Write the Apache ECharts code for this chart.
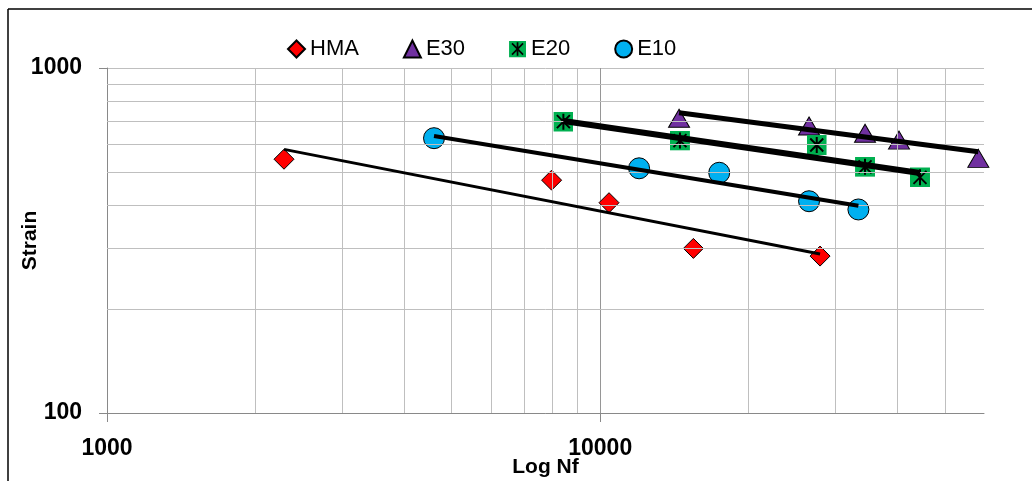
<!DOCTYPE html>
<html>
<head>
<meta charset="utf-8">
<script src="https://cdn.jsdelivr.net/npm/echarts@6/dist/echarts.min.js"></script>
<style>
html,body{margin:0;padding:0;background:#fff;}
#chartDiv{width:1032px;height:481px;}
</style>
</head>
<body>
<div id="chartDiv"></div>
<script>
// measured points (Nf, strain)
var hmaNf = [2285, 7970, 10420, 15450, 27910];
var hmaStrain = [544, 473, 407, 300, 285];
var e30Nf = [14450, 26510, 34430, 40350, 58430];
var e30Strain = [715, 679, 647, 618, 547];
var e20Nf = [8420, 14510, 27480, 34430, 44500];
var e20Strain = [699, 616, 598, 517, 482];
var e10Nf = [4603, 11990, 17430, 26510, 33380];
var e10Strain = [626, 512, 497, 411, 389];

// power trendlines, read at the ends of each series
var hmaTrend = [[2285, 581], [27910, 289]];
var e30Trend = [[14450, 742], [58430, 572]];
var e20Trend = [[8420, 702], [44500, 496]];
var e10Trend = [[4603, 635], [33380, 399]];

var seriesNames = ['HMA', 'E30', 'E20', 'E10'];
var xMinorGrid = [2000, 3000, 4000, 5000, 6000, 7000, 8000, 9000, 20000, 30000, 40000, 50000];
var yMinorGrid = [200, 300, 400, 500, 600, 700, 800, 900];
var xTickValues = [1000, 10000];
var yTickValues = [100, 1000];

var fontName = '"Liberation Sans", Arial, sans-serif';
var e20Svg = "<svg xmlns='http://www.w3.org/2000/svg' width='40' height='40' viewBox='0 0 40 40'>" +
	"<rect width='40' height='40' fill='#00b050'/>" +
	"<path d='M20 4V36M7 7L33 33M33 7L7 33' stroke='#000' stroke-width='4'/></svg>";
var e20Icon = 'image://data:image/svg+xml;charset=utf-8,' + encodeURIComponent(e20Svg);

function toPoints(xs, ys) {
	var pts = [];
	for (var i = 0; i < xs.length; i++) {
		pts.push([xs[i], ys[i]]);
	}
	return pts;
}

function trendSeries(data, width) {
	return {
		name: 'trend',
		type: 'line',
		data: data,
		showSymbol: false,
		symbol: 'none',
		silent: true,
		z: 5,
		lineStyle: {color: '#000', width: width},
		emphasis: {disabled: true}
	};
}

//only the decades get a label
function decadeLabel(v) {
	var r = Math.round(v);
	return (r == 100 || r == 1000 || r == 10000) ? String(r) : '';
}

function genChart() {
	var myChart = echarts.init(document.getElementById('chartDiv'));
	var gridLines = [];
	for (var i = 0; i < xMinorGrid.length; i++) {
		gridLines.push({xAxis: xMinorGrid[i]});
	}
	for (var j = 0; j < yMinorGrid.length; j++) {
		gridLines.push({yAxis: yMinorGrid[j]});
	}
	var option = {
		animation: false,
		backgroundColor: '#fff',
		grid: {left: 107, right: 48, top: 68, bottom: 68, containLabel: false, outerBoundsMode: 'none'},
		legend: {
			left: 282,
			top: 33,
			itemGap: 44,
			itemWidth: 17,
			itemHeight: 17,
			textStyle: {fontSize: 22, color: '#000', fontFamily: fontName},
			data: [
				{name: 'HMA', icon: 'diamond'},
				{name: 'E30', icon: 'triangle'},
				{name: 'E20', icon: e20Icon},
				{name: 'E10', icon: 'circle'}
			]
		},
		xAxis: {
			type: 'log',
			logBase: 10,
			min: 1000,
			max: 60000,
			name: 'Log Nf',
			nameLocation: 'middle',
			nameGap: 44,
			nameMoveOverlap: false,
			nameTextStyle: {fontSize: 21, fontWeight: 'bold', color: '#000', fontFamily: fontName},
			axisLine: {lineStyle: {color: '#898989', width: 1}},
			axisTick: {show: true, length: 9, customValues: xTickValues, lineStyle: {color: '#898989'}},
			axisLabel: {
				margin: 24,
				fontSize: 23,
				fontWeight: 'bold',
				color: '#000',
				fontFamily: fontName,
				customValues: xTickValues,
				formatter: decadeLabel
			},
			splitLine: {show: true, lineStyle: {color: ['#a6a6a6', '#969696', '#bfbfbf'], width: 1}}
		},
		yAxis: {
			type: 'log',
			logBase: 10,
			min: 100,
			max: 1000,
			name: 'Strain',
			nameLocation: 'middle',
			nameGap: 66,
			nameMoveOverlap: false,
			nameTextStyle: {fontSize: 21, fontWeight: 'bold', color: '#000', fontFamily: fontName},
			axisLine: {show: true, lineStyle: {color: '#898989', width: 1}},
			axisTick: {show: true, length: 8, customValues: yTickValues, lineStyle: {color: '#898989'}},
			axisLabel: {
				margin: 25,
				fontSize: 23,
				fontWeight: 'bold',
				color: '#000',
				fontFamily: fontName,
				customValues: yTickValues,
				formatter: decadeLabel
			},
			splitLine: {show: true, lineStyle: {color: '#bfbfbf', width: 1}}
		},
		graphic: [
			{type: 'line', shape: {x1: 8, y1: 9, x2: 1032, y2: 9}, style: {stroke: '#000', lineWidth: 1.5}, silent: true},
			{type: 'line', shape: {x1: 8, y1: 9, x2: 8, y2: 481}, style: {stroke: '#000', lineWidth: 1.5}, silent: true}
		],
		series: [
			{
				name: 'grid',
				type: 'scatter',
				data: [],
				z: 1,
				silent: true,
				markLine: {
					silent: true,
					symbol: ['none', 'none'],
					label: {show: false},
					lineStyle: {type: 'solid', color: '#bfbfbf', width: 1},
					emphasis: {disabled: true},
					data: gridLines
				}
			},
			{
				name: 'HMA',
				type: 'scatter',
				symbol: 'diamond',
				symbolSize: 20,
				z: 3,
				itemStyle: {color: '#ff0000', borderColor: '#000', borderWidth: 1, opacity: 1},
				data: toPoints(hmaNf, hmaStrain)
			},
			{
				name: 'E30',
				type: 'scatter',
				symbol: 'triangle',
				symbolSize: [21, 18],
				z: 3,
				itemStyle: {color: '#7030a0', borderColor: '#000', borderWidth: 1, opacity: 1},
				data: toPoints(e30Nf, e30Strain)
			},
			{
				name: 'E20',
				type: 'scatter',
				symbol: e20Icon,
				symbolSize: 20,
				z: 3,
				itemStyle: {color: '#00b050', opacity: 1},
				data: toPoints(e20Nf, e20Strain)
			},
			{
				name: 'E10',
				type: 'scatter',
				symbol: 'circle',
				symbolSize: 21,
				z: 3,
				itemStyle: {color: '#00b0f0', borderColor: '#000', borderWidth: 1, opacity: 1},
				data: toPoints(e10Nf, e10Strain)
			},
			trendSeries(hmaTrend, 3),
			trendSeries(e30Trend, 5),
			trendSeries(e20Trend, 6),
			trendSeries(e10Trend, 4)
		]
	};
	myChart.setOption(option);
}

genChart();
</script>
</body>
</html>
